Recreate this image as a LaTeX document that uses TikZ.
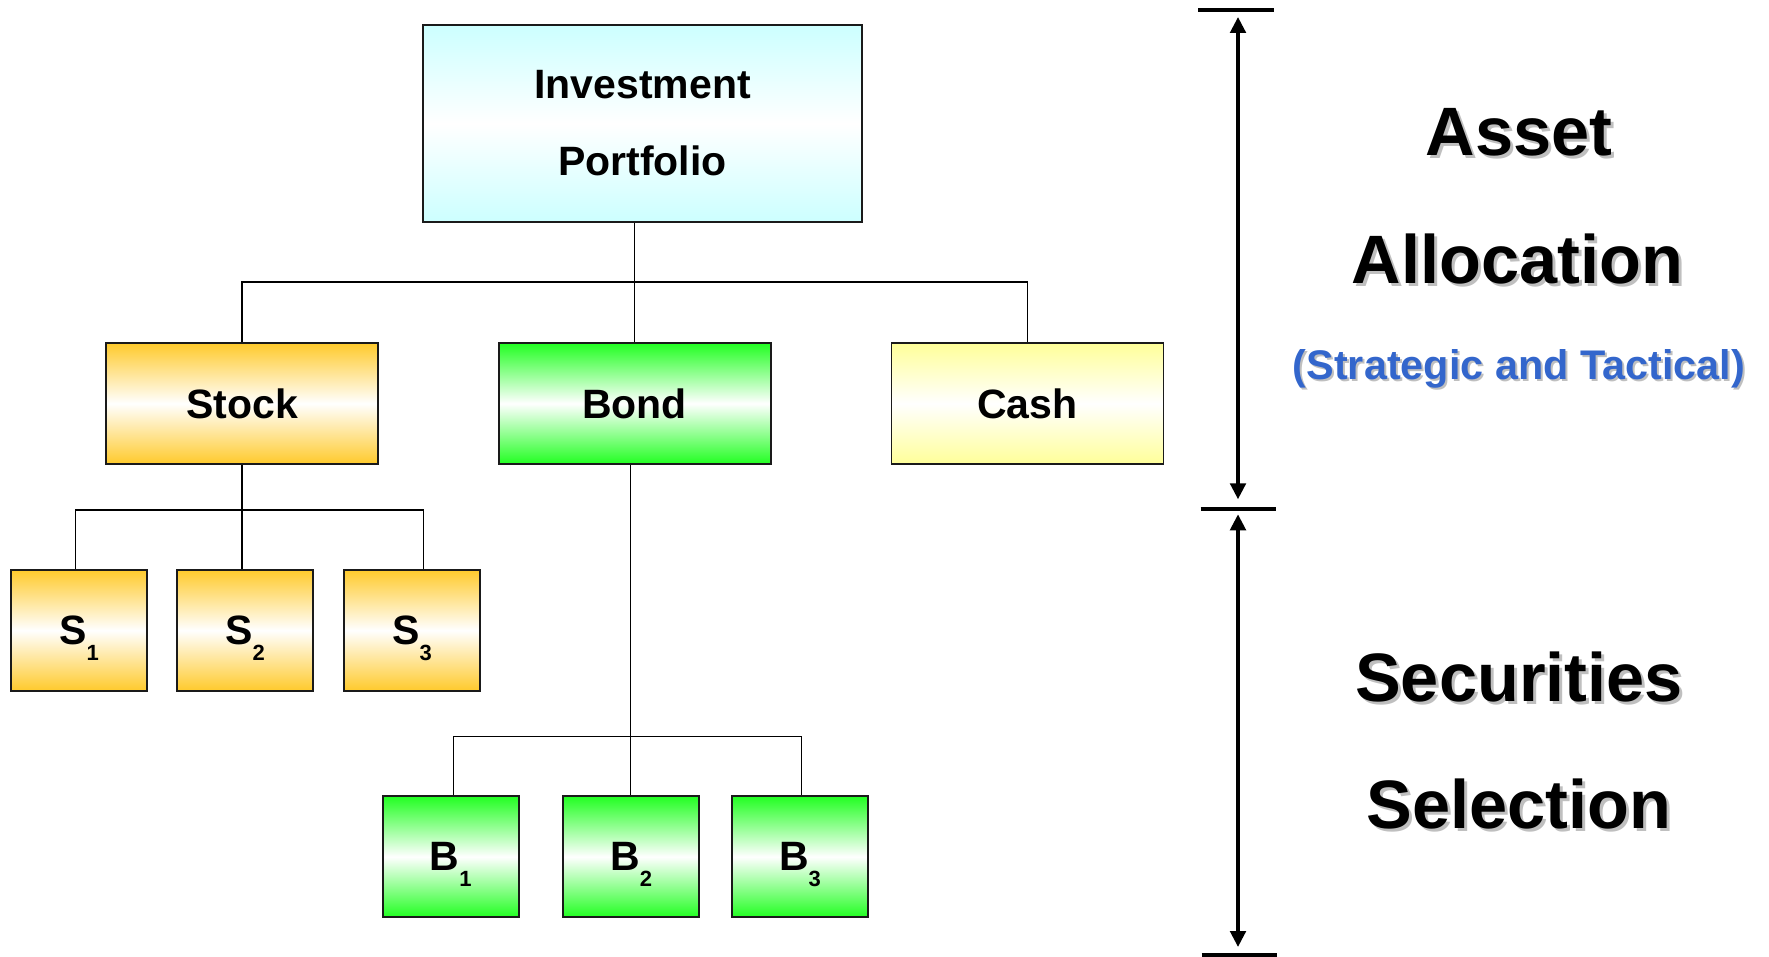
\documentclass[tikz,border=0pt]{standalone}
\usepackage{fontspec}
\setmainfont{Liberation Sans}
\usetikzlibrary{arrows.meta}

\definecolor{invc}{HTML}{CCFFFF}
\definecolor{stockc}{HTML}{FFCA2C}
\definecolor{bondc}{HTML}{22FF22}
\definecolor{cashc}{HTML}{FFFF99}
\definecolor{notec}{HTML}{3366CC}
\definecolor{edgec}{HTML}{1A1A1A}

% letter with a lowered index, e.g. S_1
\newcommand{\secsub}[2]{#1\raisebox{-16pt}[0pt][0pt]{\fontsize{22}{22}\selectfont #2}}

\begin{document}
\begin{tikzpicture}[x=1pt,y=-1pt,
  box/.style={draw=edgec,line width=1.8pt,inner sep=0pt,
    font=\fontsize{41}{41}\selectfont\bfseries},
  bigbox/.style={box,minimum width=272pt,minimum height=121pt},
  smallbox/.style={box,minimum width=136pt,minimum height=121pt},
  stockbox/.style={top color=stockc,bottom color=stockc,middle color=white},
  bondbox/.style={top color=bondc,bottom color=bondc,middle color=white},
  cashbox/.style={top color=cashc,bottom color=cashc,middle color=white},
  link/.style={line width=1.4pt,black},
  headline/.style={anchor=base,inner sep=0pt,font=\fontsize{68.5}{68.5}\selectfont\bfseries},
  noteline/.style={anchor=base,inner sep=0pt,font=\fontsize{41.4}{41.4}\selectfont\bfseries},
  shade txt/.style={text=black!25},
  bar/.style={line width=3.8pt,black},
  span/.style={line width=3.6pt,black,{Triangle[length=16pt,width=15.5pt]}-{Triangle[length=16pt,width=15.5pt]}}
]
\useasboundingbox (0,0) rectangle (1769,957);

% ---------- tree ----------
\node[box,minimum width=439pt,minimum height=197pt,
      top color=invc,bottom color=invc,middle color=white,
      align=center,font=\fontsize{41}{77}\selectfont\bfseries]
  (inv) at (642.5,123.5) {Investment\\Portfolio};

\node[bigbox,stockbox] (stock) at (242,403.5) {Stock};
\node[bigbox,bondbox]  (bond)  at (634.6,403.5) {Bond};
\node[bigbox,cashbox]  (cash)  at (1027.5,403.5) {Cash};

\node[smallbox,stockbox] (s1) at (79,630.3)  {\secsub{S}{1}};
\node[smallbox,stockbox] (s2) at (245,630.3) {\secsub{S}{2}};
\node[smallbox,stockbox] (s3) at (412,630.3) {\secsub{S}{3}};

\node[smallbox,bondbox] (b1) at (450.7,856.7) {\secsub{B}{1}};
\node[smallbox,bondbox] (b2) at (631.3,856.7) {\secsub{B}{2}};
\node[smallbox,bondbox] (b3) at (800,856.7)   {\secsub{B}{3}};

% bus levels
\coordinate (busA) at (0,282);
\coordinate (busS) at (0,510);
\coordinate (busB) at (0,736.7);

% portfolio -> asset classes
\draw[link] (inv.south -| bond.north) -- (bond.north);
\draw[link] (stock.north) -- (stock.north |- busA) -- (cash.north |- busA) -- (cash.north);

% stock -> S_i
\coordinate (s1t) at ([xshift=-3.3pt]s1.north);
\coordinate (s3t) at ([xshift=11.3pt]s3.north);
\draw[link] (stock.south) -- (stock.south |- busS);
\draw[link] (s1t) -- (s1t |- busS) -- (s3t |- busS) -- (s3t);
\draw[link] (s2.north -| stock.south) -- (stock.south |- busS);

% bond -> B_i
\coordinate (bdn) at ([xshift=-3.9pt]bond.south);
\coordinate (b1t) at ([xshift=2.6pt]b1.north);
\coordinate (b3t) at ([xshift=1.7pt]b3.north);
\draw[link] (bdn) -- (b2.north -| bdn);
\draw[link] (b1t) -- (b1t |- busB) -- (b3t |- busB) -- (b3t);

% ---------- scale on the right ----------
\coordinate (t1) at (1238,10);
\coordinate (t2) at (1238,509.3);
\coordinate (t3) at (1238,955);
\draw[bar] (1198,10) -- (1274,10);
\draw[bar] (1200.5,509.3) -- (1276,509.3);
\draw[bar] (1201.5,955) -- (1277,955);
\draw[span,shorten <=7pt,shorten >=10pt] (t1) -- (t2);
\draw[span,shorten <=5pt,shorten >=8pt] (t2) -- (t3);

% ---------- headings ----------
\node[headline,shade txt] (assetS) at (1522,159) {Asset};
\node[headline] (asset) at (1519,156) {Asset};
\node[headline,shade txt] (allocS) at (1520.5,287) {Allocation};
\node[headline] (alloc) at (1517.5,284) {Allocation};
\node[noteline,shade txt] (noteS) at (1521,381.5) {(Strategic and Tactical)};
\node[noteline,text=notec] (note) at (1519,379) {(Strategic and Tactical)};

\node[headline,shade txt] (secS) at (1522,704) {Securities};
\node[headline] (sec) at (1519,701) {Securities};
\node[headline,shade txt] (selS) at (1522,831) {Selection};
\node[headline] (sel) at (1519,828) {Selection};
\end{tikzpicture}
\end{document}
